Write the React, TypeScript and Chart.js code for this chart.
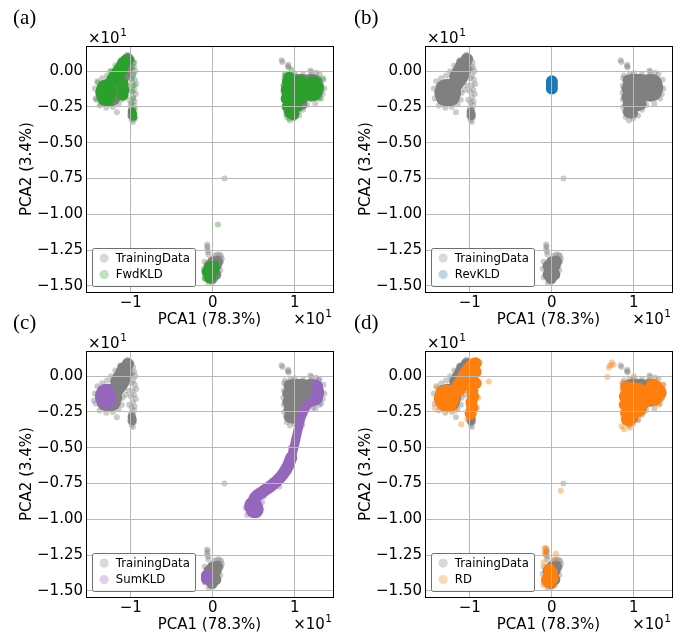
import React, { useEffect, useRef } from 'react';
import { Chart, registerables } from 'chart.js';

Chart.register(...registerables);

type Pt = [number, number];

// ---- axes (PCA scores shown in units of 10) ----
const X_TICKS = [-1, 0, 1];
const Y_TICKS = [0, -0.25, -0.5, -0.75, -1, -1.25, -1.5];
const X_LIMITS: Pt = [-1.547, 1.465];
const Y_LIMITS: Pt = [-1.542, 0.176];
const X_TITLE = 'PCA1 (78.3%)';
const Y_TITLE = 'PCA2 (3.4%)';
const OFFSET_EXP = '1';
const PANEL_TAGS = ['(a)', '(b)', '(c)', '(d)'];
const REFERENCE_NAME = 'TrainingData';
const MODEL_NAMES = ['FwdKLD', 'RevKLD', 'SumKLD', 'RD'];

// ---- training data: dense cores and sparse outer points ----
const TRAIN_BIG: Pt[] = [
  [-1.325, -0.15], [-1.215, -0.15], [-1.27, -0.115], [-1.27, -0.185], [-1.27, -0.15],
  [-1.31, -0.12], [-1.23, -0.12], [-1.31, -0.18], [-1.23, -0.18],
  [1.15, -0.115], [1.25, -0.115], [1.2, -0.08], [1.2, -0.15], [1.2, -0.115],
  [1.165, -0.085], [1.235, -0.085], [1.165, -0.145], [1.235, -0.145],
];
const TRAIN_MID: Pt[] = [
  [-1.2, -0.085], [-1.17, -0.06], [-1.14, -0.035], [-1.115, -0.01], [-1.09, 0.015],
  [-1.07, 0.04], [-1.05, 0.065], [-1.035, 0.085], [-1.16, -0.1], [-1.13, -0.075],
  [-1.1, -0.05], [-1.075, -0.02], [-1.05, 0.01], [-1.18, -0.035], [-1.15, -0.005],
  [-1.12, 0.025], [-1.095, 0.055],
  [0.935, -0.065], [0.98, -0.06], [1.04, -0.06], [1.09, -0.06],
  [0.92, -0.12], [0.98, -0.12], [1.04, -0.12], [1.09, -0.12],
  [0.92, -0.18], [0.98, -0.18], [1.04, -0.18], [1.09, -0.18],
  [0.935, -0.235], [0.98, -0.24], [1.04, -0.24], [1.08, -0.23],
  [0.94, -0.285], [0.975, -0.29],
  [-0.04, -1.36], [0.03, -1.36], [-0.04, -1.42], [0.03, -1.42], [0.0, -1.39],
  [0.0, -1.335], [-0.01, -1.445], [0.05, -1.33],
];
const TRAIN_SMALL: Pt[] = [[-0.99, -0.283], [-0.978, -0.3], [-0.985, -0.315]];
const TRAIN_SPRAY: Pt[] = [
  [-0.99, 0.085], [-1.01, 0.07], [-0.97, 0.06], [-0.96, 0.03], [-0.99, 0.02], [-0.945, 0.0],
  [-0.97, -0.03], [-0.995, -0.05], [-0.95, -0.06], [-0.935, -0.09], [-0.98, -0.1], [-0.96, -0.13],
  [-1.0, -0.14], [-0.94, -0.16], [-0.975, -0.18], [-0.955, -0.21], [-0.99, -0.22], [-1.02, -0.2],
  [-0.96, -0.24], [-1.0, -0.26], [-0.97, -0.27], [-1.01, -0.31], [-0.96, -0.32], [-0.99, -0.34],
  [-0.975, -0.355], [-1.17, -0.286],
  [-1.44, -0.12], [-1.43, -0.19], [-1.38, -0.24], [-1.3, -0.255], [-1.22, -0.25], [-1.15, -0.23],
  [-1.11, -0.2], [-1.41, -0.07], [-1.35, -0.05], [-1.29, -0.03], [-1.24, 0.0], [-1.19, 0.04],
  [-1.13, 0.075], [-1.07, 0.1], [-1.02, 0.1], [-1.045, 0.115], [-1.08, -0.08], [-1.1, -0.15],
  [-1.05, -0.05], [-1.03, -0.1], [-1.06, -0.13],
  [0.838, 0.077], [0.848, 0.065], [0.915, 0.035], [0.925, 0.025], [0.92, 0.045], [1.2, -0.005],
  [1.19, 0.005], [0.87, -0.05], [0.86, -0.15], [0.87, -0.25], [0.9, -0.32], [0.94, -0.345],
  [0.99, -0.33], [1.05, -0.31], [1.1, -0.27], [1.15, -0.235], [1.25, -0.225], [1.32, -0.19],
  [1.36, -0.12], [1.35, -0.06], [1.3, -0.02], [1.1, -0.02], [1.0, -0.015], [0.95, -0.02],
  [1.12, -0.05], [1.14, -0.2], [0.88, -0.03], [0.865, -0.1], [0.865, -0.2], [0.89, -0.28],
  [1.02, -0.3], [1.34, -0.16], [1.26, -0.01],
  [-0.07, -1.21], [-0.065, -1.225], [-0.07, -1.24], [-0.06, -1.26], [-0.055, -1.28], [0.02, -1.29],
  [0.05, -1.28], [0.08, -1.28], [0.1, -1.29], [0.11, -1.31], [0.1, -1.33], [0.08, -1.36],
  [0.09, -1.39], [-0.1, -1.33], [-0.11, -1.38], [-0.1, -1.44], [-0.05, -1.48], [0.0, -1.47],
  [0.141, -0.75],
];

// ---- FwdKLD samples ----
const FWD_BIG: Pt[] = [
  [-1.32, -0.142], [-1.28, -0.142], [-1.3, -0.12], [-1.3, -0.18],
  [1.2, -0.12], [1.24, -0.12], [1.22, -0.095], [1.22, -0.145],
];
const FWD_MID: Pt[] = [
  [-1.23, -0.06], [-1.2, -0.035], [-1.17, -0.01], [-1.14, 0.015], [-1.11, 0.04], [-1.08, 0.06],
  [-1.055, 0.075], [-1.2, -0.07], [-1.17, -0.045], [-1.14, -0.02], [-1.11, 0.005],
  [-1.1, -0.09], [-1.09, -0.13], [-1.1, -0.165],
  [0.915, -0.075], [0.96, -0.07], [1.02, -0.07], [1.08, -0.07],
  [0.9, -0.13], [0.96, -0.13], [1.02, -0.13], [1.08, -0.13],
  [0.9, -0.19], [0.96, -0.19], [1.02, -0.19], [1.08, -0.19],
  [0.915, -0.245], [0.96, -0.25], [1.02, -0.245], [0.95, -0.29], [0.98, -0.3], [0.93, -0.045],
  [-0.065, -1.4], [0.0, -1.4], [-0.033, -1.37], [-0.033, -1.43], [0.01, -1.365], [-0.04, -1.44],
];
const FWD_SMALL: Pt[] = [[-0.975, -0.298], [-0.97, -0.318], [-0.982, -0.285]];
const FWD_SPRAY: Pt[] = [
  [-0.98, 0.03], [-0.97, -0.02], [-0.99, -0.06], [-0.96, -0.1], [-0.98, -0.14], [-0.97, -0.19],
  [-1.0, -0.23], [-0.95, -0.26], [-0.95, -0.33], [-0.99, -0.27], [-0.96, 0.06], [-0.985, 0.08],
  [-1.42, -0.2], [-1.36, -0.23], [-1.25, -0.23], [-1.2, -0.2], [-1.4, -0.08], [-1.25, 0.0],
  [-1.1, 0.085], [-1.04, 0.1], [-1.0, 0.07],
  [0.88, -0.02], [0.86, -0.1], [0.87, -0.2], [0.9, -0.3], [0.93, -0.33], [1.05, -0.28],
  [0.96, 0.01], [0.93, -0.045], [0.91, -0.06], [1.3, -0.19], [1.34, -0.05],
  [0.061, -1.07], [-0.1, -1.45], [0.04, -1.34],
];

// ---- RevKLD samples ----
const REV_MID: Pt[] = [[0.0, -0.071], [0.0, -0.096], [0.0, -0.121]];

// ---- SumKLD samples ----
const SUM_BIG: Pt[] = [
  [-1.33, -0.135], [-1.29, -0.135], [-1.31, -0.115], [-1.31, -0.165],
  [0.49, -0.905], [0.51, -0.93], [0.5, -0.918],
];
const SUM_MID: Pt[] = [
  [1.27, -0.07], [1.27, -0.1], [1.27, -0.13], [1.265, -0.155],
  [-0.073, -1.395], [-0.073, -1.415],
];
const SUM_PATH_UPPER: Pt[] = [
  [1.199, -0.172], [1.13, -0.219], [1.077, -0.289], [1.045, -0.359], [1.016, -0.429],
  [0.988, -0.499], [0.955, -0.569],
];
const SUM_PATH_LOWER: Pt[] = [
  [0.955, -0.569], [0.915, -0.627], [0.854, -0.685], [0.78, -0.732], [0.691, -0.774],
  [0.602, -0.809], [0.52, -0.844], [0.49, -0.88],
];
const SUM_SPRAY: Pt[] = [
  [1.12, -0.26], [1.09, -0.34], [0.98, -0.55], [0.88, -0.69], [0.75, -0.77], [0.62, -0.84],
  [0.4, -0.92], [0.42, -0.97], [0.55, -0.97], [0.6, -0.88], [0.95, -0.5], [1.06, -0.26],
  [1.3, -0.2], [1.22, -0.22], [-1.45, -0.17], [-1.2, -0.2], [1.03, -0.45], [0.72, -0.73],
  [0.81, -0.77], [0.93, -0.66], [1.29, -0.03],
];

// ---- RD samples ----
const RD_BIG: Pt[] = [
  [-1.33, -0.155], [-1.23, -0.155], [-1.28, -0.12], [-1.28, -0.19], [-1.28, -0.155],
  [-1.31, -0.13], [-1.25, -0.13], [-1.31, -0.18], [-1.25, -0.18],
  [1.2, -0.115], [1.29, -0.115], [1.245, -0.085], [1.245, -0.145], [1.245, -0.115],
];
const RD_MID: Pt[] = [
  [-1.17, -0.09], [-1.14, -0.06], [-1.11, -0.03], [-1.08, 0.0], [-1.05, 0.03], [-1.02, 0.05],
  [-0.99, 0.07], [-0.96, 0.085], [-0.93, 0.09], [-1.13, -0.1], [-1.1, -0.07],
  [-0.97, 0.06], [-0.95, 0.02], [-0.97, -0.02], [-0.96, -0.06], [-0.97, -0.1], [-0.96, -0.14],
  [-0.98, -0.18], [-0.97, -0.22], [-0.99, -0.26], [-0.93, 0.03], [-0.93, -0.05],
  [0.905, -0.075], [0.95, -0.08], [1.01, -0.085], [1.07, -0.09],
  [0.89, -0.14], [0.95, -0.14], [1.01, -0.14], [1.07, -0.14], [1.13, -0.14],
  [0.89, -0.2], [0.95, -0.2], [1.01, -0.2], [1.07, -0.2], [1.12, -0.19],
  [0.905, -0.255], [0.95, -0.26], [1.01, -0.255], [1.06, -0.245], [0.915, -0.305], [0.95, -0.31],
  [-0.03, -1.35], [-0.03, -1.4], [-0.035, -1.44], [0.0, -1.37], [-0.06, -1.42], [0.01, -1.41],
];
const RD_SPRAY: Pt[] = [
  [-0.769, -0.037], [-1.105, -0.336], [-0.9, -0.15], [-0.91, -0.22], [-1.02, -0.24], [-0.88, 0.1],
  [-0.92, 0.11], [-0.95, 0.105], [-1.43, -0.22], [-1.18, -0.24], [-1.4, -0.08], [-1.03, -0.3],
  [-0.99, -0.29],
  [0.696, 0.06], [0.729, 0.096], [0.676, -0.005], [0.75, 0.08], [0.71, 0.075], [0.85, -0.35],
  [0.88, -0.37], [0.95, -0.36], [1.3, -0.2], [1.36, -0.06], [1.0, 0.0], [1.05, -0.3],
  [0.86, -0.05], [0.85, -0.2], [0.87, -0.28], [1.12, -0.25], [1.18, -0.03],
  [0.109, -0.8], [-0.09, -1.2], [-0.07, -1.2], [-0.085, -1.23], [-0.06, -1.225], [-0.08, -1.245],
  [0.049, -1.238], [0.03, -1.28], [-0.1, -1.3], [-0.1, -1.46], [0.04, -1.46],
];

// ---- styling ----
const GRAY_RGB = [128, 128, 128];
const MODEL_RGB = [[44, 160, 44], [31, 119, 180], [148, 103, 189], [255, 127, 14]];
const R_BIG = 9;
const R_MID = 6;
const R_SMALL = 4;
const R_SPRAY = 3;
const SPRAY_ALPHA = 0.4;
const GRID_COLOR = '#b8b8b8';
const FONT = '"DejaVu Sans", sans-serif';
const CANVAS_W = 342;
const CANVAS_H = 335;
const Y_AXIS_W = 82;
const X_AXIS_H = 40;

const rgba = (c: number[], a: number) => `rgba(${c[0]},${c[1]},${c[2]},${a})`;
const toXY = (arr: Pt[]) => arr.map(([x, y]) => ({ x, y }));
const minus = (s: string) => s.replace('-', '\u2212');

const dots = (data: Pt[], color: string, radius: number, order: number) => ({
  data: toXY(data),
  backgroundColor: color,
  borderColor: color,
  borderWidth: 0,
  pointRadius: radius,
  pointHoverRadius: radius,
  pointBorderWidth: 0,
  showLine: false,
  order,
});

const path = (data: Pt[], color: string, width: number, order: number) => ({
  data: toXY(data),
  borderColor: color,
  backgroundColor: color,
  borderWidth: width,
  showLine: true,
  fill: false,
  tension: 0.4,
  pointRadius: 0,
  pointHoverRadius: 0,
  borderCapStyle: 'round',
  borderJoinStyle: 'round',
  order,
});

type Layers = { big?: Pt[]; mid?: Pt[]; small?: Pt[]; spray?: Pt[]; thin?: Pt[]; wide?: Pt[] };
const MODEL_LAYERS: Layers[] = [
  { big: FWD_BIG, mid: FWD_MID, small: FWD_SMALL, spray: FWD_SPRAY },
  { mid: REV_MID },
  { big: SUM_BIG, mid: SUM_MID, spray: SUM_SPRAY, thin: SUM_PATH_UPPER, wide: SUM_PATH_LOWER },
  { big: RD_BIG, mid: RD_MID, spray: RD_SPRAY },
];

// plot-frame placement of each panel inside its canvas
const PANEL_POS = [
  { left: 0, top: 0, frame: { l: 86, t: 46, r: 334, b: 292 }, tagX: 13 },
  { left: 342, top: 0, frame: { l: 83, t: 46, r: 330, b: 292 }, tagX: 12 },
  { left: 0, top: 302, frame: { l: 86, t: 49, r: 334, b: 295 }, tagX: 13 },
  { left: 342, top: 302, frame: { l: 83, t: 49, r: 330, b: 295 }, tagX: 12 },
];

function drawOffsetText(ctx: CanvasRenderingContext2D, x: number, y: number, align: 'left' | 'right') {
  ctx.font = `15px ${FONT}`;
  const base = '\u00d710';
  const wb = ctx.measureText(base).width;
  ctx.font = `10.5px ${FONT}`;
  const we = ctx.measureText(OFFSET_EXP).width;
  const x0 = align === 'right' ? x - wb - we - 0.5 : x;
  ctx.textAlign = 'left';
  ctx.textBaseline = 'middle';
  ctx.fillStyle = '#000';
  ctx.font = `15px ${FONT}`;
  ctx.fillText(base, x0, y);
  ctx.font = `10.5px ${FONT}`;
  ctx.fillText(OFFSET_EXP, x0 + wb + 0.5, y - 6);
}

const decorPlugin = {
  id: 'panelDecor',
  afterDraw(chart: any, _args: any, opts: any) {
    const { ctx, chartArea: ca } = chart;
    ctx.save();
    // frame
    ctx.strokeStyle = '#000';
    ctx.lineWidth = 1;
    const l = Math.round(ca.left) + 0.5;
    const t = Math.round(ca.top) + 0.5;
    ctx.strokeRect(l, t, Math.round(ca.right) - Math.round(ca.left), Math.round(ca.bottom) - Math.round(ca.top));

    // panel tag
    ctx.fillStyle = '#000';
    ctx.font = '21px "Liberation Serif", serif';
    ctx.textAlign = 'left';
    ctx.textBaseline = 'middle';
    ctx.fillText(opts.tag, opts.tagX, ca.top - 28);

    // scale offset texts
    drawOffsetText(ctx, ca.left + 2, ca.top - 7, 'left');
    drawOffsetText(ctx, ca.right - 1, ca.bottom + 28, 'right');

    // legend
    const entries = opts.entries as { label: string; color: string }[];
    ctx.font = `11.7px ${FONT}`;
    const tw = Math.max(...entries.map((e) => ctx.measureText(e.label).width));
    const w = Math.round(23.3 + tw + 5.3);
    const h = 38;
    const bx = Math.round(ca.left + 5.7) + 0.5;
    const by = Math.round(ca.bottom - 6.3 - h) + 0.5;
    ctx.beginPath();
    ctx.roundRect(bx, by, w, h, 2);
    ctx.fillStyle = 'rgba(255,255,255,0.85)';
    ctx.fill();
    ctx.strokeStyle = '#6e6e6e';
    ctx.lineWidth = 1;
    ctx.stroke();
    entries.forEach((e, i) => {
      const cy = by + 9.6 + i * 16.4;
      ctx.beginPath();
      ctx.arc(bx + 11.6, cy, 4.6, 0, Math.PI * 2);
      ctx.fillStyle = e.color;
      ctx.fill();
      ctx.fillStyle = '#000';
      ctx.textAlign = 'left';
      ctx.textBaseline = 'middle';
      ctx.fillText(e.label, bx + 23.3, cy + 0.5);
    });
    ctx.restore();
  },
};

function buildConfig(i: number): any {
  const pos = PANEL_POS[i];
  const layers = MODEL_LAYERS[i];
  const rgb = MODEL_RGB[i];
  const solid = rgba(rgb, 1);
  const datasets: any[] = [];

  // reference cloud underneath
  datasets.push({ label: REFERENCE_NAME, ...dots(TRAIN_SPRAY, rgba(GRAY_RGB, SPRAY_ALPHA), R_SPRAY, 4) });
  datasets.push(dots(TRAIN_SMALL, rgba(GRAY_RGB, 1), R_SMALL, 3));
  datasets.push(dots(TRAIN_MID, rgba(GRAY_RGB, 1), R_MID, 3));
  datasets.push(dots(TRAIN_BIG, rgba(GRAY_RGB, 1), R_BIG, 3));

  // model samples on top
  if (layers.spray) datasets.push({ label: MODEL_NAMES[i], ...dots(layers.spray, rgba(rgb, SPRAY_ALPHA), R_SPRAY, 1) });
  if (layers.thin) datasets.push(path(layers.thin, solid, 9, 0));
  if (layers.wide) datasets.push(path(layers.wide, solid, 12, 0));
  if (layers.small) datasets.push(dots(layers.small, solid, R_SMALL, 0));
  if (layers.mid) datasets.push(dots(layers.mid, solid, R_MID, 0));
  if (layers.big) datasets.push(dots(layers.big, solid, R_BIG, 0));

  const f = pos.frame;
  return {
    type: 'scatter',
    data: { datasets },
    options: {
      responsive: false,
      animation: false,
      events: [],
      layout: {
        padding: {
          left: f.l - Y_AXIS_W,
          top: f.t,
          right: CANVAS_W - f.r,
          bottom: CANVAS_H - f.b - X_AXIS_H,
        },
      },
      plugins: {
        legend: { display: false },
        tooltip: { enabled: false },
        panelDecor: {
          tag: PANEL_TAGS[i],
          tagX: pos.tagX,
          entries: [
            { label: REFERENCE_NAME, color: rgba(GRAY_RGB, 0.3) },
            { label: MODEL_NAMES[i], color: rgba(rgb, 0.3) },
          ],
        },
      },
      scales: {
        x: {
          type: 'linear',
          min: X_LIMITS[0],
          max: X_LIMITS[1],
          afterBuildTicks: (s: any) => {
            s.ticks = X_TICKS.map((v) => ({ value: v }));
          },
          afterFit: (s: any) => {
            s.height = X_AXIS_H;
          },
          grid: { color: GRID_COLOR, lineWidth: 1, drawTicks: false, z: 1 },
          border: { display: false },
          ticks: {
            padding: 2,
            color: '#000',
            font: { family: FONT, size: 15 },
            callback: (v: number) => minus(String(v)),
          },
          title: {
            display: true,
            text: X_TITLE,
            color: '#000',
            font: { family: FONT, size: 15 },
            padding: { top: 0, bottom: 3 },
          },
        },
        y: {
          type: 'linear',
          min: Y_LIMITS[0],
          max: Y_LIMITS[1],
          afterBuildTicks: (s: any) => {
            s.ticks = Y_TICKS.map((v) => ({ value: v }));
          },
          afterFit: (s: any) => {
            s.width = Y_AXIS_W;
          },
          grid: { color: GRID_COLOR, lineWidth: 1, drawTicks: false, z: 1 },
          border: { display: false },
          ticks: {
            padding: 3,
            color: '#000',
            font: { family: FONT, size: 15 },
            callback: (v: number) => minus(Number(v).toFixed(2)),
          },
          title: {
            display: true,
            text: Y_TITLE,
            color: '#000',
            font: { family: FONT, size: 15 },
            padding: { top: 14, bottom: 0 },
          },
        },
      },
    },
    plugins: [decorPlugin],
  };
}

function Panel({ index }: { index: number }) {
  const ref = useRef<HTMLCanvasElement | null>(null);
  useEffect(() => {
    const chart = new Chart(ref.current as HTMLCanvasElement, buildConfig(index));
    return () => chart.destroy();
  }, [index]);
  const pos = PANEL_POS[index];
  return (
    <canvas
      ref={ref}
      width={CANVAS_W}
      height={CANVAS_H}
      style={{ position: 'absolute', left: pos.left, top: pos.top, width: CANVAS_W, height: CANVAS_H }}
    />
  );
}

export default function App() {
  return (
    <div style={{ position: 'fixed', left: 0, top: 0, width: 684, height: 637, background: '#fff' }}>
      {PANEL_POS.map((_, i) => (
        <Panel key={i} index={i} />
      ))}
    </div>
  );
}
